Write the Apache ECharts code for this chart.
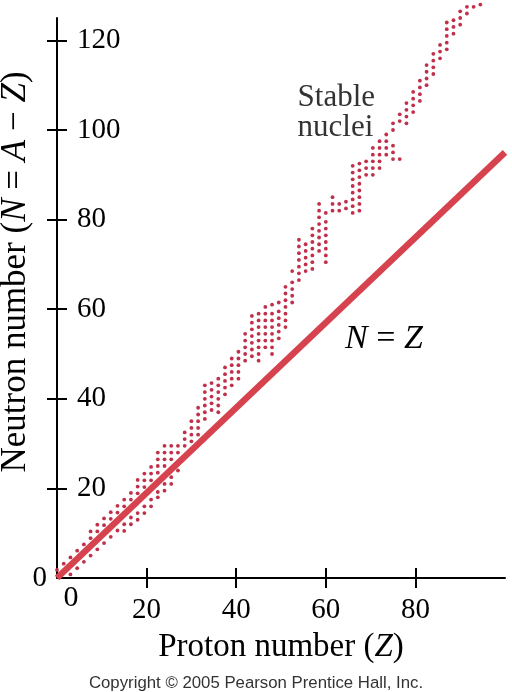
<!DOCTYPE html>
<html>
<head>
<meta charset="utf-8">
<script src="https://cdn.jsdelivr.net/npm/echarts@6/dist/echarts.min.js"></script>
<style>
html,body{margin:0;padding:0;background:#fff;}
#main{width:512px;height:692px;}
</style>
</head>
<body>
<div id="main"></div>
<script>
// Proton number Z of each dot column
const protonZ = [0,1.5,3,4.5,6,7.5,9,10.5,12,13.5,15,16.5,18,19.5,21,22.5,24,25.5,27,28.5,30,31.5,33,34.5,36,37.5,39,40.5,42,43.5,45,46.5,48,49.5,51,52.5,54,55.5,57,58.5,60,61.5,63,64.5,66,67.5,69,70.5,72,73.5,75,76.5,78,79.5,81,82.5,84,85.5,87,88.5,90,91.5,93,94.5];
// Neutron numbers N of stable nuclei dots in each column
const neutronN = [
  [1.8],
  [3.2],
  [0.8,4.6],
  [2.2,6.1],
  [3.6,7.5],
  [5,8.9,10.4],
  [6.4,10.4,11.9],
  [7.8,11.8,13.3],
  [9.2,13.2,14.7],
  [10.6,14.6,16.1],
  [10.5,12,16,17.5],
  [12,13.5,17.5,19],
  [13,14.5,18.9,20.4,21.9],
  [14.5,16,20.3,21.8,23.3],
  [16,17.5,21.8,23.3,24.8],
  [18,19.2,23.5,25,26.5,28],
  [19.5,21,25,26.5,28,29.5],
  [21,22.5,26.5,28,29.5],
  [24,28,29.5],
  [29.5,31,32.5],
  [30.5,32,33.5,35],
  [32,33.5,35,36.5,38],
  [35.5,37,38.5,40,41.5,43],
  [37.5,39,40.5,42,43.5],
  [37,38.5,40,41.5,43,44.5],
  [41,42.5,44,45.5,47],
  [43,44.5,46,47.5,49],
  [44.5,46,47.5,49,50.5],
  [48.5,50,51.5,53,54.5],
  [49.5,51,52.5,54,55.5,57,58.5],
  [48.5,50,51.5,53,54.5,56,57.5,59],
  [51.5,53,54.5,56,57.5,59,60.5],
  [50,51.5,53,54.5,56,57.5,59,61],
  [53.5,55,56.5,58,59.5,61.5],
  [56,57.5,59,60.5,62,63.5,65],
  [61.5,63,64.5,66,68.5],
  [66.5,68,69.5,71,72.5,74,75.5],
  [68.5,70,71.5,73,74.5],
  [69,70.5,72,73.5,75,76.5,78],
  [73,74.5,76,77.5,79,80.5,82,83.5],
  [70.5,72,73.5,75,76.5,78,79.5,81.5],
  [82,83.5,85],
  [82,83.5],
  [82.5,84],
  [81.5,83,84.5,86,87.5,89,90.5,92],
  [82,83.5,85,86.5,88,89.5,91,92.5],
  [90,91.5,93],
  [90,91.5,93,94.5,96],
  [91.5,93,94.5,96,97.5],
  [94.5,96,97.5,99],
  [93.5,95,96.5,100,101.5],
  [93.5,102,103.5],
  [101.5,103,104.5,106],
  [104,105.5,107,108.5],
  [106.5,108,109.5,111],
  [110,111.5,113,114.5],
  [112.5,114,115.5,117],
  [116,117.5,119],
  [118,119.5,121,122.5,124],
  [121.5,123,124.5],
  [123.5,125,126.5],
  [126,127.5],
  [127.5],
  [128]
];
// the drawn "N = Z" line
const lineZ = [0, 100];
const lineN = [0, 95];
const xTicks = [20, 40, 60, 80];
const yTicks = [20, 40, 60, 80, 100, 120];
// annotation anchors (data coordinates) and texts
const annotationText = ['Stable\nnuclei', '{i|N} = {i|Z}'];
const annotationAt = [[53.7, 110.5], [64.3, 57.2]];

const stableData = protonZ.flatMap((z, i) => neutronN[i].map(n => [z, n]));
const lineData = lineZ.map((z, i) => [z, lineN[i]]);

const SERIF = 'Liberation Serif';
const chart = echarts.init(document.getElementById('main'), null, {renderer: 'canvas'});

const axisLineStyle = {color: '#000', width: 2};
const option = {
  animation: false,
  backgroundColor: '#fff',
  title: {
    text: 'Copyright © 2005 Pearson Prentice Hall, Inc.',
    left: 'center', top: 670,
    textStyle: {fontFamily: 'Liberation Sans', fontSize: 16.8, fontWeight: 'normal', color: '#333'}
  },
  grid: {left: 57, right: 7, top: 18, bottom: 114, outerBoundsMode: 'none', containLabel: false},
  xAxis: [{
    type: 'value', min: 0, max: 100, interval: 20,
    splitLine: {show: false},
    axisLine: {lineStyle: axisLineStyle},
    axisTick: {length: 10, lineStyle: axisLineStyle, customValues: xTicks},
    axisLabel: {customValues: xTicks, margin: 18, fontFamily: SERIF, fontSize: 29, color: '#000'},
    name: 'Proton number ({i|Z})', nameLocation: 'middle', nameGap: 53,
    nameTextStyle: {fontFamily: SERIF, fontSize: 33, color: '#000',
      rich: {i: {fontFamily: SERIF, fontSize: 33, fontStyle: 'italic', color: '#000'}}}
  }, {
    type: 'value', min: 0, max: 100, interval: 20, position: 'bottom',
    splitLine: {show: false},
    axisLine: {show: false},
    axisTick: {inside: true, length: 10, lineStyle: axisLineStyle, customValues: xTicks},
    axisLabel: {customValues: [0], margin: 5, color: '#000',
      formatter: v => '{z|' + v + '}',
      rich: {z: {fontFamily: SERIF, fontSize: 30, color: '#000', padding: [0, 0, 0, 28]}}}
  }],
  yAxis: [{
    type: 'value', min: 0, max: 125, interval: 20,
    splitLine: {show: false},
    axisLine: {lineStyle: axisLineStyle},
    axisTick: {length: 10, lineStyle: axisLineStyle, customValues: yTicks},
    axisLabel: {inside: true, customValues: yTicks, margin: 20, fontFamily: SERIF, fontSize: 29, color: '#000'},
    name: 'Neutron number ({i|N} = {i|A} − {i|Z})', nameLocation: 'middle', nameGap: 24, nameRotate: 90,
    nameTextStyle: {fontFamily: SERIF, fontSize: 35, color: '#000', padding: [0, 0, 0, 52],
      rich: {i: {fontFamily: SERIF, fontSize: 35, fontStyle: 'italic', color: '#000'}}}
  }, {
    type: 'value', min: 0, max: 125, interval: 20, position: 'left',
    splitLine: {show: false},
    axisLine: {show: false},
    axisTick: {inside: true, length: 10, lineStyle: axisLineStyle, customValues: yTicks},
    axisLabel: {customValues: [0], margin: 10, fontFamily: SERIF, fontSize: 29, color: '#000'}
  }],
  series: [{
    type: 'scatter', name: 'Stable nuclei',
    data: stableData, symbol: 'circle', symbolSize: 3.8,
    itemStyle: {color: '#c0304a', opacity: 1}, clip: false, z: 2
  }, {
    type: 'line', name: 'N = Z',
    data: lineData, showSymbol: false, symbol: 'none',
    lineStyle: {color: '#d6434f', width: 6.5}, z: 3, clip: false
  }, {
    type: 'scatter', name: 'annotations', silent: true, symbolSize: 0, z: 4,
    itemStyle: {opacity: 1},
    data: annotationAt.map((p, i) => ({
      value: p,
      label: i === 0
        ? {show: true, formatter: annotationText[0], position: [0, 0], align: 'left', verticalAlign: 'top',
           fontFamily: SERIF, fontSize: 31, lineHeight: 30, color: '#333'}
        : {show: true, formatter: annotationText[1], position: [0, 0], align: 'left', verticalAlign: 'top',
           fontFamily: SERIF, fontSize: 34, color: '#000',
           rich: {i: {fontFamily: SERIF, fontSize: 34, fontStyle: 'italic', color: '#000'}}}
    }))
  }]
};
chart.setOption(option);
</script>
</body>
</html>
